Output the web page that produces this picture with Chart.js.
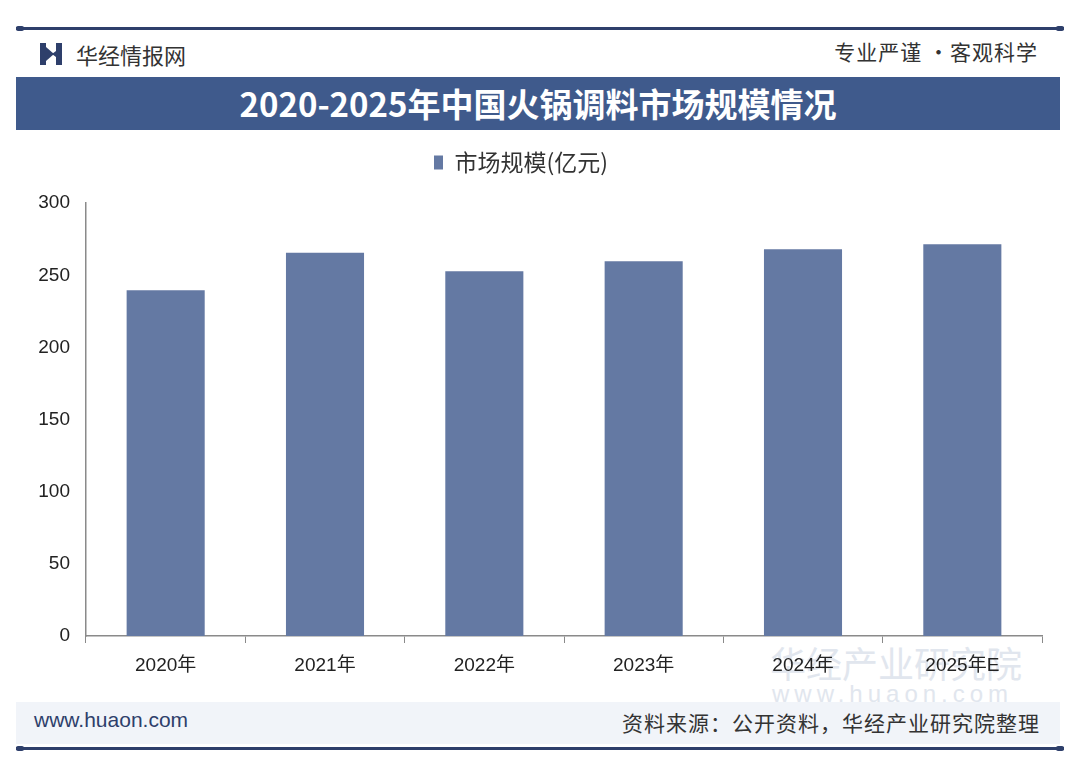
<!DOCTYPE html>
<html>
<head>
<meta charset="utf-8">
<script src="https://cdn.jsdelivr.net/npm/chart.js@4.4.1/dist/chart.umd.min.js"></script>
<style>
    html, body { margin: 0; padding: 0; background: #fff; }
    body { width: 1080px; height: 767px; position: relative; overflow: hidden;
           font-family: "Noto Sans CJK SC", "Noto Sans", sans-serif; }
    .rule { position: absolute; left: 16px; width: 1048px; height: 3px; background: #2e3f6b; }
    .rule::before, .rule::after { content: ''; position: absolute; top: -1px; width: 8px; height: 5px;
           background: #2e3f6b; border-radius: 2px; }
    .rule::before { left: 0; } .rule::after { right: 0; }
    .brand { position: absolute; left: 40px; top: 38px; display: flex; align-items: center;
             font-size: 22px; color: #333; }
    .brand svg { margin-right: 14px; }
    .motto { position: absolute; right: 42px; top: 36px; font-size: 21px; color: #333; letter-spacing: 1px; }
    .band { position: absolute; left: 16px; top: 77px; width: 1044px; height: 53px; background: #3f5a8c;
            color: #fff; font-weight: bold; font-size: 33px; text-align: center; line-height: 53px; }
    .foot { position: absolute; left: 16px; top: 702px; width: 1044px; height: 42px; background: #f1f4f9; }
    .foot .l { position: absolute; left: 18px; top: 6px; font-family: "Liberation Sans", sans-serif;
               font-size: 21px; color: #2e3f6b; }
    .foot .r { position: absolute; right: 20px; top: 5px; font-size: 21px; color: #333; letter-spacing: 1px; }
    .wm { position: absolute; color: #e1e6ee; white-space: nowrap; }
    #wrap { position: absolute; left: 0; top: 111px; width: 1080px; height: 589px; }
</style>
</head>
<body>
<div class="rule" style="top:27px"></div>
<div class="brand">
    <svg width="22" height="22" viewBox="0 0 22 22">
        <polygon points="0,0 6,0 6,22 0,22" fill="#2e3f6b"/>
        <polygon points="6,4 14,11 6,18" fill="#2e3f6b"/>
        <polygon points="16,0 22,0 22,22 16,22 16,14 12,11 16,8" fill="#2e3f6b"/>
    </svg>
    <span>华经情报网</span>
</div>
<div class="motto">专业严谨 •客观科学</div>
<div class="band">2020-2025年中国火锅调料市场规模情况</div>

<div class="wm" style="left:770px; top:636px; font-size:36px;">华经产业研究院</div>
<div class="wm" style="left:772px; top:680px; font-size:24px; letter-spacing:5px; font-family:'Liberation Sans',sans-serif;">www.huaon.com</div>

<div id="wrap"><canvas id="chart"></canvas></div>

<div class="foot">
    <div class="l">www.huaon.com</div>
    <div class="r">资料来源：公开资料，华经产业研究院整理</div>
</div>
<div class="rule" style="top:747px"></div>

<script>
// chart data
const categories = ['2020年', '2021年', '2022年', '2023年', '2024年', '2025年E'];
const marketSize = [239.6, 265.7, 252.8, 259.7, 268.1, 271.6];
const seriesName = '市场规模(亿元)';
const yTicks = [0, 50, 100, 150, 200, 250, 300];

const tickFont = { family: '"Liberation Sans", "Noto Sans CJK SC", sans-serif', size: 19 };

new Chart(document.getElementById('chart'), {
    type: 'bar',
    data: {
        labels: categories,
        datasets: [{
            label: seriesName,
            data: marketSize,
            backgroundColor: '#6479a3',
            barPercentage: 0.49,
            categoryPercentage: 1
        }]
    },
    options: {
        responsive: true,
        maintainAspectRatio: false,
        animation: false,
        layout: { padding: { top: 0, right: 38, bottom: 0, left: 0 } },
        plugins: {
            legend: {
                display: true,
                position: 'top',
                labels: {
                    color: '#333',
                    font: { family: '"Noto Sans CJK SC", sans-serif', size: 23 },
                    boxWidth: 9,
                    boxHeight: 14,
                    padding: 40
                }
            },
            // empty title used only as a gap between legend and plot
            title: {
                display: true,
                text: '',
                weight: 500,
                font: { size: 1 },
                padding: { top: 0, bottom: 18 }
            },
            tooltip: { enabled: false }
        },
        scales: {
            y: {
                min: 0,
                max: 300,
                afterFit: s => { s.width = 86; },
                afterBuildTicks: s => { s.ticks = yTicks.map(v => ({ value: v })); },
                grid: { display: false, drawTicks: true, tickLength: 6, color: '#8a8a8a' },
                border: { display: true, color: '#8a8a8a', width: 1.5 },
                ticks: { color: '#222', font: tickFont, padding: 10 }
            },
            x: {
                afterFit: s => { s.height = 64; },
                grid: { display: true, drawOnChartArea: false, drawTicks: true, tickLength: 7,
                        color: '#8a8a8a', offset: true },
                border: { display: true, color: '#8a8a8a', width: 1.5 },
                ticks: { color: '#222', font: tickFont, padding: 11 }
            }
        }
    }
});
</script>
</body>
</html>
